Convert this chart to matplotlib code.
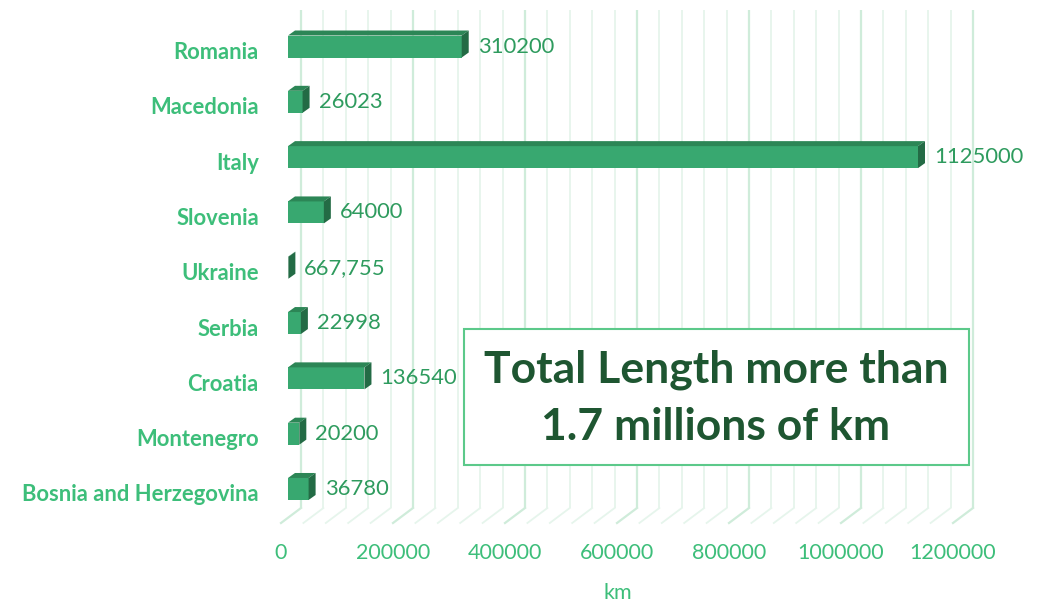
import numpy as np
import matplotlib.pyplot as plt
import matplotlib.transforms as mtransforms
from matplotlib.patches import Polygon, Rectangle

plt.rcParams['font.family'] = ['Lato', 'DejaVu Sans']

countries = ['Bosnia and Herzegovina', 'Montenegro', 'Croatia', 'Serbia', 'Ukraine',
             'Slovenia', 'Italy', 'Macedonia', 'Romania']
lengths = [36780, 20200, 136540, 22998, 667.755, 64000, 1125000, 26023, 310200]
value_labels = ['36780', '20200', '136540', '22998', '667,755', '64000', '1125000', '26023', '310200']
xticks = [0, 200000, 400000, 600000, 800000, 1000000, 1200000]

FRONT = '#38A870'
TOP = '#2C8656'
SIDE = '#236B45'
LABEL = '#3DBE7A'
VALUE = '#2E9B5E'

fig = plt.figure(figsize=(10.43, 6.05), dpi=100)
W, H = 1043, 605
ax_h = 513
ax = fig.add_axes([288 / W, (H - 523) / H, 672 / W, ax_h / H])
ax.set_xlim(0, 1200000)
ax.set_ylim(-0.615, 8.66)
for s in ax.spines.values():
    s.set_visible(False)

PX = 1200000 / 672.0          # data units per pixel (x)
PY = (8.66 + 0.615) / ax_h    # data units per pixel (y)

# gridlines: back wall + floor
blend = mtransforms.blended_transform_factory(ax.transData, ax.transAxes)
for t in np.arange(0, 1200001, 40000):
    major = t % 200000 == 0
    c = '#CFECDA' if major else '#E6F5EC'
    lw = 1.6 if major else 1.3
    ax.plot([t + 13 * PX, t + 13 * PX], [15 / ax_h, 1], color=c, lw=lw,
            transform=blend, zorder=1, clip_on=False, solid_capstyle='butt')
    ax.plot([t - 7 * PX, t + 13 * PX], [0, 15 / ax_h], color=c, lw=lw,
            transform=blend, zorder=1, clip_on=False)

# 3D bars
y = np.arange(len(countries))
h = 22 * PY
ddx, ddy = 7 * PX, 5 * PY
ax.barh(y, lengths, height=h, color=FRONT, zorder=3)
for yi, v in zip(y, lengths):
    top = Polygon([(0, yi + h / 2), (v, yi + h / 2), (v + ddx, yi + h / 2 + ddy),
                   (ddx, yi + h / 2 + ddy)], closed=True, color=TOP, zorder=3, lw=0)
    side = Polygon([(v, yi - h / 2), (v + ddx, yi - h / 2 + ddy), (v + ddx, yi + h / 2 + ddy),
                    (v, yi + h / 2)], closed=True, color=SIDE, zorder=3, lw=0)
    ax.add_patch(top)
    ax.add_patch(side)

for yi, v, lab in zip(y, lengths, value_labels):
    ax.text(v + 16 * PX, yi, lab, ha='left', va='center', fontsize=15.8,
            color=VALUE, zorder=4)

# category labels
ax.set_yticks(y)
ax.set_yticklabels(countries, fontsize=15.8, fontweight='bold', color=LABEL)
ax.tick_params(axis='y', length=0, pad=21)
ax.set_xticks([])
off = mtransforms.ScaledTranslation(0, -4 / 100, fig.dpi_scale_trans)
for lbl in ax.get_yticklabels():
    lbl.set_transform(lbl.get_transform() + off)

# x tick labels (front plane)
for t in xticks:
    ax.text(t - 7 * PX, -30 / ax_h, str(t), transform=blend, ha='center', va='center',
            fontsize=15.5, color=LABEL)
fig.text(618 / W, (H - 593) / H, 'km', ha='center', va='center',
         fontsize=15.5, color=LABEL)

# annotation box
fig.patches.append(Rectangle((464 / W, (H - 465) / H), 505 / W, 136 / H,
                             transform=fig.transFigure, fill=True, facecolor='white',
                             edgecolor='#5CC98A', lw=1.5, zorder=5))
fig.text(716 / W, (H - 370) / H, 'Total Length more than', ha='center', va='center',
         fontsize=32, fontweight='bold', color='#1E5631', zorder=6)
fig.text(716 / W, (H - 427) / H, '1.7 millions of km', ha='center', va='center',
         fontsize=32, fontweight='bold', color='#1E5631', zorder=6)

fig.savefig('out.png', dpi=100)
